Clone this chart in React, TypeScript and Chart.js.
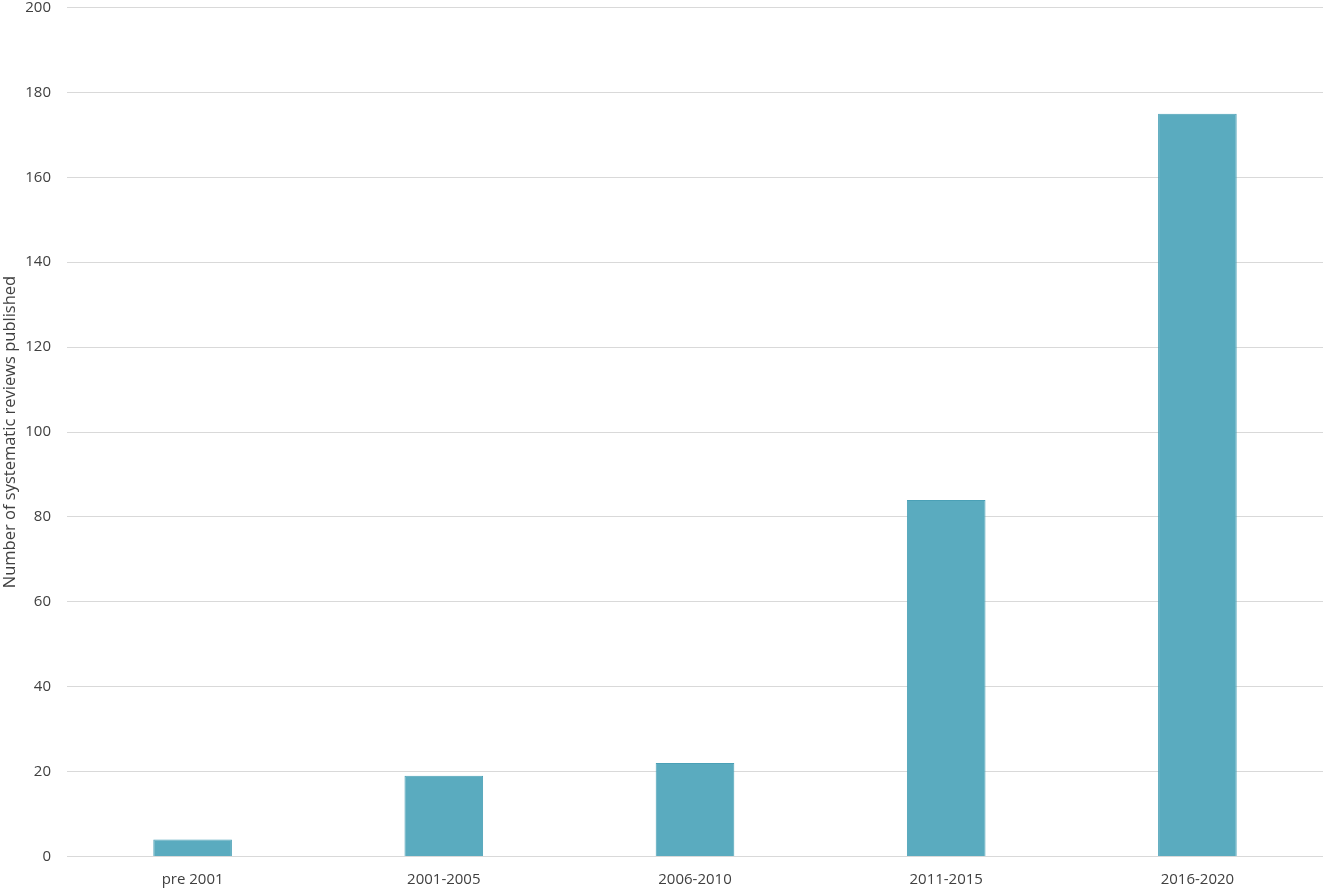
import { useEffect, useRef } from "react";
import { Chart, registerables } from "chart.js";

Chart.register(...registerables);

const categories = ["pre 2001", "2001-2005", "2006-2010", "2011-2015", "2016-2020"];
const reviewCounts = [4, 19, 22, 84, 175];
const yTitle = "Number of systematic reviews published";

const App = () => {
  const canvasRef = useRef<HTMLCanvasElement | null>(null);
  const chartRef = useRef<Chart | null>(null);

  useEffect(() => {
    if (!canvasRef.current) return;
    chartRef.current?.destroy();

    chartRef.current = new Chart(canvasRef.current, {
      type: "bar",
      data: {
        labels: categories,
        datasets: [
          {
            data: reviewCounts,
            backgroundColor: "#5aabbf",
            borderColor: "#4aa0b6",
            borderWidth: 1,
            categoryPercentage: 1,
            barPercentage: 0.313,
          },
        ],
      },
      options: {
        animation: false,
        responsive: false,
        maintainAspectRatio: false,
        layout: { padding: { top: 7.5, right: 0, left: 0, bottom: 0 } },
        plugins: {
          legend: { display: false },
          tooltip: { enabled: false },
        },
        scales: {
          x: {
            grid: { display: false, drawTicks: false },
            border: { display: false },
            ticks: {
              color: "#404040",
              font: { family: "Open Sans", size: 15 },
              padding: 14,
            },
            afterFit: (scale) => {
              scale.height = 31.5;
            },
          },
          y: {
            min: 0,
            max: 200,
            ticks: {
              stepSize: 20,
              color: "#404040",
              font: { family: "Open Sans", size: 15 },
              padding: 16,
            },
            grid: { color: "#d9d9d9", lineWidth: 1, drawTicks: false },
            border: { display: false },
            title: {
              display: true,
              text: yTitle,
              color: "#404040",
              font: { family: "Open Sans", size: 16.5 },
              padding: { top: 0, bottom: 0 },
            },
            afterFit: (scale) => {
              scale.width = 67;
              scale.paddingTop = 0;
              scale.paddingBottom = 0;
            },
          },
        },
      },
    });

    return () => {
      chartRef.current?.destroy();
      chartRef.current = null;
    };
  }, []);

  return (
    <div style={{ position: "absolute", left: 0, top: 0, width: 1323, height: 888, background: "#fff" }}>
      <canvas ref={canvasRef} width={1323} height={888}></canvas>
    </div>
  );
};

export default App;
